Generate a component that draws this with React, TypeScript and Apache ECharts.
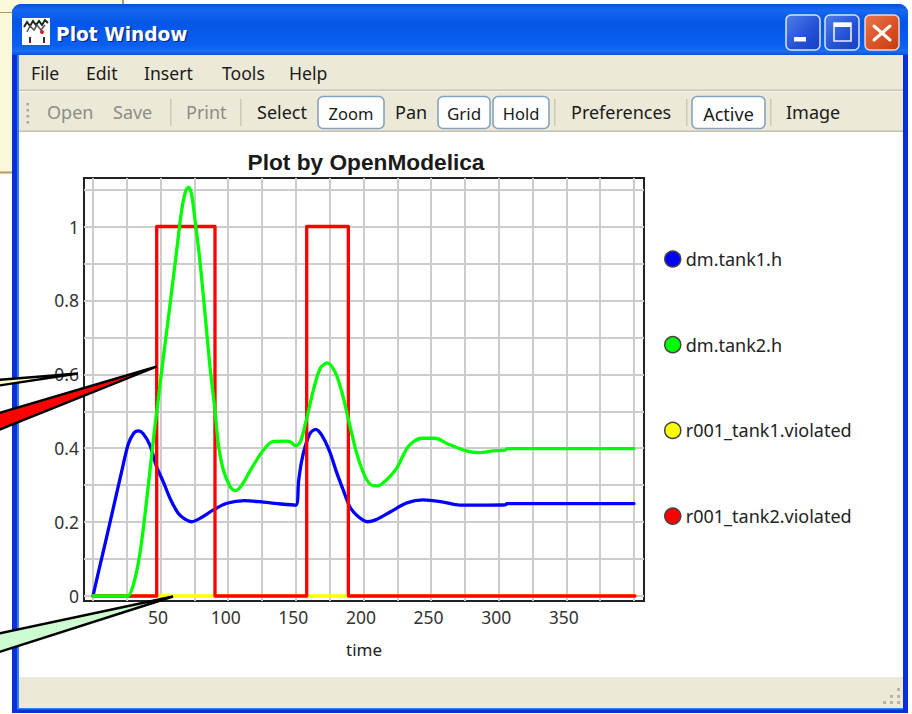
import React, { useEffect, useRef } from "react";
import * as echarts from "echarts";

const chartTitle = "Plot by OpenModelica";
const xAxisName = "time";
const xTicks = [0, 25, 50, 75, 100, 125, 150, 175, 200, 225, 250, 275, 300, 325, 350, 375, 400];
const xLabels = [50, 100, 150, 200, 250, 300, 350];
const yTicks = [0, 0.1, 0.2, 0.3, 0.4, 0.5, 0.6, 0.7, 0.8, 0.9, 1, 1.1];
const yLabels = [0, 0.2, 0.4, 0.6, 0.8, 1];
const seriesNames = ["dm.tank1.h", "dm.tank2.h", "r001_tank1.violated", "r001_tank2.violated"];

const tank1: number[][] = [
  [0, 0], [5, 0.08], [10, 0.158], [16, 0.254], [21, 0.334], [26, 0.41], [30, 0.44], [33.5, 0.447], [37, 0.44],
  [42, 0.409], [47, 0.35], [52, 0.309], [57, 0.264], [63, 0.224], [68, 0.208], [73, 0.201], [79, 0.21], [89, 0.233],
  [99, 0.251], [112, 0.258], [126, 0.254], [139, 0.249], [150, 0.246], [152, 0.31], [154, 0.36], [156.5, 0.4],
  [160.5, 0.44], [164.6, 0.451], [169, 0.436], [175, 0.391], [180, 0.336], [185, 0.287], [190, 0.241], [196, 0.215],
  [203, 0.201], [210, 0.208], [220, 0.228], [232, 0.252], [244, 0.26], [259, 0.254], [271, 0.246], [291, 0.246],
  [305, 0.247], [306, 0.25], [400, 0.25],
];
const tank2: number[][] = [
  [0, 0], [25.4, 0], [29.8, 0.03], [34.7, 0.115], [39.7, 0.26], [44.6, 0.422], [47.5, 0.51], [52, 0.645], [57, 0.79],
  [61.9, 0.936], [65.6, 1.045], [68.8, 1.099], [70.8, 1.106], [73, 1.085], [75.4, 1.018], [79, 0.909], [82.8, 0.765],
  [86.5, 0.62], [90.2, 0.503], [92.7, 0.41], [96.4, 0.341], [101.4, 0.296], [105, 0.285], [110, 0.3], [117.3, 0.346],
  [126, 0.395], [133, 0.418], [143, 0.419], [146, 0.417], [150, 0.406], [153.6, 0.42], [158, 0.481], [163, 0.558],
  [168, 0.616], [173.2, 0.631], [179, 0.606], [184, 0.552], [189, 0.476], [195, 0.386], [201.2, 0.323], [206, 0.3],
  [210.3, 0.298], [217, 0.314], [224.6, 0.346], [233, 0.404], [243, 0.427], [253, 0.427], [261.6, 0.413], [274, 0.395],
  [286, 0.388], [296, 0.393], [305, 0.395], [306, 0.399], [400, 0.399],
];
const violated1: number[][] = [[0, 0], [400.7, 0]];
const violated2: number[][] = [
  [0, 0], [47.1, 0], [47.1, 1], [90.2, 1], [90.2, 0], [158, 0], [158, 1], [188.8, 1], [188.8, 0], [400.7, 0],
];

const menuItems: [string, number][] = [["File", 31], ["Edit", 86], ["Insert", 144], ["Tools", 222], ["Help", 289]];
const toolbarPlain: [string, number, boolean][] = [
  ["Open", 47, false], ["Save", 113, false], ["Print", 186, false], ["Select", 257, true], ["Pan", 395, true],
  ["Preferences", 571, true], ["Image", 786, true],
];
const toolbarButtons: [string, number, number, number][] = [
  ["Zoom", 318, 66, 16.5], ["Grid", 438, 52, 17], ["Hold", 493, 56, 16.5], ["Active", 692, 73, 18],
];

const UI_FONT = '"Noto Sans", sans-serif';

function rect(x: number, y: number, width: number, height: number, fill: any, z = -10, r: any = 0, extra: any = {}) {
  return { type: "rect", z, silent: true, shape: { x, y, width, height, r }, style: { fill, ...extra } };
}
function label(text: string, x: number, y: number, fill: string, fontSize = 17.6, extra: any = {}) {
  return {
    type: "text", z: -5, silent: true, x, y,
    style: { text, fill, fontSize, fontFamily: UI_FONT, textVerticalAlign: "middle", textAlign: "left", ...extra },
  };
}
function wedge(points: number[][], fill: string) {
  return {
    type: "polygon", z: 100, silent: true, shape: { points },
    style: { fill, stroke: "#000", lineWidth: 2.4, lineJoin: "miter" },
  };
}
function seg(x1: number, y1: number, x2: number, y2: number, stroke: string, lineWidth: number) {
  return { type: "line", z: -4, silent: true, shape: { x1, y1, x2, y2 }, style: { stroke, lineWidth, lineCap: "round" } };
}

function buildChrome(): any[] {
  const LG = echarts.graphic.LinearGradient;
  const titleFill = new LG(0, 0, 0, 1, [
    { offset: 0, color: "#0a4fd8" }, { offset: 0.12, color: "#1668f0" }, { offset: 0.35, color: "#0556e6" },
    { offset: 0.8, color: "#0a5ef0" }, { offset: 0.93, color: "#1a6cf4" }, { offset: 1, color: "#0a50dc" },
  ]);
  const blueBtn = new LG(0, 0, 1, 1, [{ offset: 0, color: "#4f7ee8" }, { offset: 0.6, color: "#2350d6" }, { offset: 1, color: "#1a3fc0" }]);
  const redBtn = new LG(0, 0, 1, 1, [{ offset: 0, color: "#e8764e" }, { offset: 0.6, color: "#d94f24" }, { offset: 1, color: "#c33a10" }]);
  const els: any[] = [
    rect(0, 0, 912, 714, "#ffffff", -30),
    rect(0, 0, 123, 12, "#f9f8d8", -29),
    rect(0, 12, 12, 160, "#f9f8d8", -29),
    rect(0, 12, 123, 1, "#b89a5c", -28),
    rect(122, 0, 2, 5, "#b89a5c", -28),
    rect(0, 171.5, 12, 2, "#b89a5c", -28),
    rect(12, 4, 896, 709, "#0831d9", -20, [9, 9, 0, 0]),
    rect(12, 4, 896, 51, titleFill, -19, [9, 9, 0, 0]),
    rect(17, 55, 2, 654, "#2f7ff2", -19),
    rect(17, 708, 886, 1.5, "#2f7ff2", -19),
    rect(19, 55, 884, 653, "#ffffff", -18),
    rect(19, 55, 884, 77, "#ece9d8", -17),
    rect(19, 89.5, 884, 1.5, "#c9c5b4", -16),
    rect(19, 91, 884, 1, "#f8f6ec", -16),
    rect(19, 130.5, 884, 1.5, "#c4c0b0", -16),
    rect(19, 677, 884, 31, "#ece9d8", -17),
    // window icon
    rect(22, 18, 28, 27, "#ffffff", -5),
    { type: "polyline", z: -4, silent: true, shape: { points: [[24, 27], [27, 22], [30, 26], [33, 21], [36, 25], [39, 21], [42, 25], [45, 20], [48, 23]] }, style: { stroke: "#222", lineWidth: 2, fill: "none" } },
    { type: "polyline", z: -4, silent: true, shape: { points: [[27, 32], [30, 26], [34, 30], [37, 25], [41, 30], [45, 25]] }, style: { stroke: "#555", lineWidth: 1.5, fill: "none" } },
    { type: "circle", z: -4, silent: true, shape: { cx: 42, cy: 32, r: 2 }, style: { fill: "#e01818" } },
    rect(29, 37, 2, 6, "#333", -4),
    rect(43, 37, 2, 6, "#333", -4),
    // title text
    label("Plot Window", 57.5, 35.5, "#0b2a8c", 18.6, { fontFamily: '"DejaVu Sans", sans-serif', fontWeight: "bold" }),
    label("Plot Window", 56, 34, "#ffffff", 18.6, { fontFamily: '"DejaVu Sans", sans-serif', fontWeight: "bold" }),
    // caption buttons
    rect(786, 15, 34, 35, blueBtn, -5, 5, { stroke: "#d8e4fb", lineWidth: 1.5 }),
    rect(825, 15, 34, 35, blueBtn, -5, 5, { stroke: "#d8e4fb", lineWidth: 1.5 }),
    rect(865, 15, 34, 35, redBtn, -5, 5, { stroke: "#f0d8d0", lineWidth: 1.5 }),
    rect(794, 37, 12, 4.5, "#ffffff", -4),
    rect(834, 23, 17, 18, "none", -4, 0, { stroke: "#e8effc", lineWidth: 1.6 }),
    rect(834, 23, 17, 4, "#ffffff", -4),
    seg(874, 26, 890, 40, "#ffffff", 3),
    seg(890, 26, 874, 40, "#ffffff", 3),
    // toolbar gripper and separators
    ...[104, 110, 116, 122].map((y) => rect(26.5, y - 1, 2.5, 2.5, "#a8a498", -5)),
    ...[170, 240, 554, 686, 770].map((x) => rect(x, 99, 1.5, 27, "#cdc9b8", -5)),
    // resize grip
    ...[[898, 689], [898, 696], [891, 696], [898, 702], [891, 702], [884, 702]].map(([x, y]) => rect(x - 1, y - 1, 3, 3, "#b9b5a4", -5)),
  ];
  for (const [t, x] of menuItems) els.push(label(t, x, 73, "#1a1a1a"));
  for (const [t, x, on] of toolbarPlain) els.push(label(t, x, 112, on ? "#1a1a1a" : "#8c8c84", 18));
  for (const [t, x, w, size] of toolbarButtons) {
    els.push(rect(x, 96.5, w, 32, "#ffffff", -6, 5, { stroke: "#86a3bd", lineWidth: 1.6 }));
    els.push({
      type: "text", z: -5, silent: true, x: x + w / 2, y: 113.5,
      style: { text: t, fill: "#1a1a1a", fontSize: size, fontFamily: UI_FONT, textAlign: "center", textVerticalAlign: "middle" },
    });
  }
  // callout wedges laid over the window
  els.push(wedge([[-4, 380], [78, 373.5], [-4, 386]], "#fdfbc8"));
  els.push(wedge([[-4, 414], [157, 366.5], [-4, 431]], "#ff0000"));
  els.push(wedge([[-4, 634], [173, 596.5], [-4, 653]], "#ccfcd0"));
  return els;
}

function lineSeries(name: string, data: number[][], color: string, smooth: number | boolean) {
  return {
    name, type: "line", data, showSymbol: false, symbol: "none", smooth,
    lineStyle: { color, width: 3.3, join: "round", cap: "round" }, itemStyle: { color },
  };
}

export default function App() {
  const ref = useRef<HTMLDivElement>(null);
  useEffect(() => {
    document.body.style.margin = "0";
    const chart = echarts.init(ref.current!, null, { renderer: "svg" });
    chart.setOption({
      animation: false,
      backgroundColor: "transparent",
      title: {
        text: chartTitle, left: 361, top: 145, textAlign: "center",
        textStyle: { fontFamily: '"Liberation Sans", sans-serif', fontWeight: "bold", fontSize: 22.7, color: "#1a1a1a" },
      },
      legend: {
        orient: "vertical", left: 659, top: 245, itemWidth: 16, itemHeight: 16, itemGap: 67.7, icon: "circle",
        data: seriesNames, selectedMode: false,
        itemStyle: { borderColor: "#444", borderWidth: 1.5 },
        textStyle: { fontFamily: UI_FONT, fontSize: 18, color: "#222" },
      },
      grid: { left: 84, top: 178, width: 560, height: 423, show: true, borderColor: "#222", borderWidth: 2, backgroundColor: "#fff" },
      xAxis: {
        type: "value", min: -6.65, max: 407.4,
        name: xAxisName, nameLocation: "middle", nameGap: 40,
        nameTextStyle: { fontFamily: UI_FONT, fontSize: 17, color: "#222" },
        axisLine: { show: false },
        axisTick: { show: false, customValues: xTicks },
        axisLabel: { customValues: xLabels, margin: 7, fontFamily: UI_FONT, fontSize: 17.5, color: "#333", padding: [0, 5, 0, 0] },
        splitLine: { show: true, lineStyle: { color: "#cccccc", width: 2 } },
      },
      yAxis: {
        type: "value", min: -0.01353, max: 1.1313,
        axisLine: { show: false },
        axisTick: { show: false, customValues: yTicks },
        axisLabel: { customValues: yLabels, margin: 5, fontFamily: UI_FONT, fontSize: 17.5, color: "#333", formatter: (v: number) => String(v) },
        splitLine: { show: true, lineStyle: { color: "#cccccc", width: 2 } },
      },
      series: [
        lineSeries(seriesNames[0], tank1, "#0000ff", 0.3),
        lineSeries(seriesNames[2], violated1, "#ffff00", false),
        lineSeries(seriesNames[3], violated2, "#ff0000", false),
        lineSeries(seriesNames[1], tank2, "#00ff00", 0.3),
      ],
      graphic: { elements: buildChrome() },
    });
    return () => chart.dispose();
  }, []);
  return <div ref={ref} style={{ width: 912, height: 714 }} />;
}
